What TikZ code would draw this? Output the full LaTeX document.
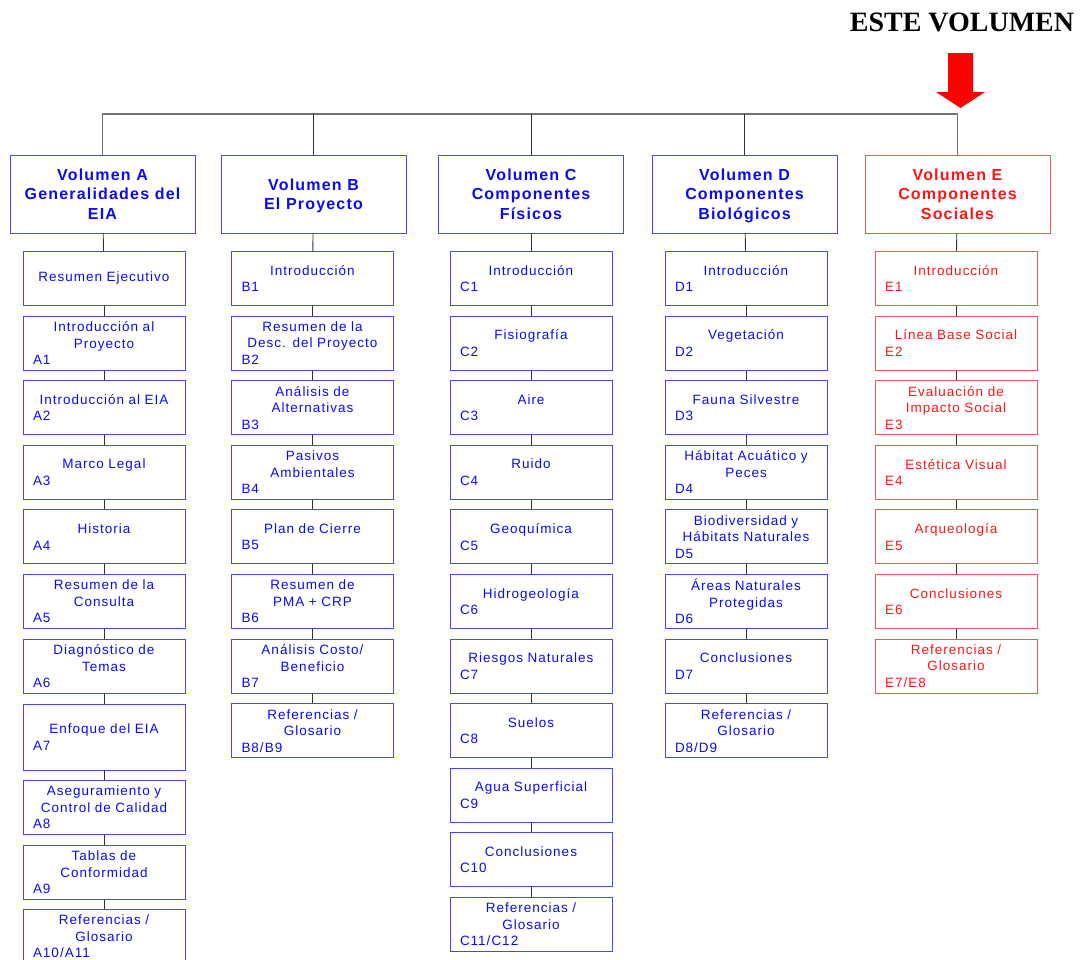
\documentclass[tikz,border=0pt]{standalone}
\usepackage{fontspec}
\setmainfont{Liberation Sans}[LetterSpace=7.4]
\newfontfamily\bannerfont{Liberation Serif}
\usepackage{tikz}
\usetikzlibrary{positioning,calc}
\definecolor{volblue}{RGB}{10,10,245}
\definecolor{edgeblue}{RGB}{70,70,250}
\definecolor{socred}{RGB}{255,20,20}
\definecolor{edgered}{RGB}{250,80,80}
\definecolor{linkgray}{RGB}{50,50,50}

% title lines centred, code flush left
\newcommand{\itemtxt}[2]{#1\\\makebox[142pt][l]{#2}}

\begin{document}
\begin{tikzpicture}[
    x=1pt, y=-1pt,
    volbox/.style={rectangle, draw=edgeblue, text=volblue, line width=1pt,
                minimum width=185, minimum height=78, align=center, inner sep=1pt,
                text depth=0pt, font=\fontsize{16}{19.5}\selectfont\bfseries},
    secbox/.style={rectangle, draw=edgeblue, text=volblue, line width=0.9pt,
                text width=142pt, inner xsep=10pt, inner ysep=1pt, minimum height=54,
                align=center, font=\fontsize{13.5}{16.5}\selectfont},
    socvol/.style={volbox, draw=edgered, text=socred},
    socsec/.style={secbox, draw=edgered, text=socred},
    link/.style={draw=linkgray, line width=0.9pt}
]
\useasboundingbox (0,0) rectangle (1084,959);

\node[font=\bannerfont\fontsize{28}{30}\selectfont\bfseries] (banner) at (962,22) {ESTE VOLUMEN};
\fill[red] (948,53) -- (973,53) -- (973,92) -- (985,92) -- (960.5,108) -- (936,92) -- (948,92) -- cycle;

% volumes
\node[volbox] (va) at (102.5,194) {Volumen A\\Generalidades del\\EIA};
\node[volbox] (vb) at (313.5,194) {Volumen B\\El Proyecto};
\node[volbox] (vc) at (531,194) {Volumen C\\Componentes\\Físicos};
\node[volbox] (vd) at (744.5,194) {Volumen D\\Componentes\\Biológicos};
\node[socvol] (ve) at (957.5,194) {Volumen E\\Componentes\\Sociales};

% volumen A
\node[secbox] (a0) at (104,278.5) {Resumen Ejecutivo};
\node[secbox] (a1) at (104,343.1) {\itemtxt{Introducción al\\Proyecto}{A1}};
\node[secbox] (a2) at (104,407.7) {\itemtxt{Introducción al EIA}{A2}};
\node[secbox] (a3) at (104,472.3) {\itemtxt{Marco Legal}{A3}};
\node[secbox] (a4) at (104,536.9) {\itemtxt{Historia}{A4}};
\node[secbox] (a5) at (104,601.5) {\itemtxt{Resumen de la\\Consulta}{A5}};
\node[secbox] (a6) at (104,666.1) {\itemtxt{Diagnóstico de\\Temas}{A6}};
\node[secbox, minimum height=66] (a7) at (104,737) {\itemtxt{Enfoque del EIA}{A7}};
\node[secbox] (a8) at (104,807.5) {\itemtxt{Aseguramiento y\\Control de Calidad}{A8}};
\node[secbox] (a9) at (104,872.5) {\itemtxt{Tablas de\\Conformidad}{A9}};
\node[secbox] (a10) at (104,936.5) {\itemtxt{Referencias /\\Glosario}{A10/A11}};

% volumen B
\node[secbox] (b1) at (312.5,278.5) {\itemtxt{Introducción}{B1}};
\node[secbox] (b2) at (312.5,343.1) {\itemtxt{Resumen de la\\Desc. del Proyecto}{B2}};
\node[secbox] (b3) at (312.5,407.7) {\itemtxt{Análisis de\\Alternativas}{B3}};
\node[secbox] (b4) at (312.5,472.3) {\itemtxt{Pasivos\\Ambientales}{B4}};
\node[secbox] (b5) at (312.5,536.9) {\itemtxt{Plan de Cierre}{B5}};
\node[secbox] (b6) at (312.5,601.5) {\itemtxt{Resumen de\\PMA + CRP}{B6}};
\node[secbox] (b7) at (312.5,666.1) {\itemtxt{Análisis Costo/\\Beneficio}{B7}};
\node[secbox] (b8) at (312.5,730.7) {\itemtxt{Referencias /\\Glosario}{B8/B9}};

% volumen C
\node[secbox] (c1) at (531,278.5) {\itemtxt{Introducción}{C1}};
\node[secbox] (c2) at (531,343.1) {\itemtxt{Fisiografía}{C2}};
\node[secbox] (c3) at (531,407.7) {\itemtxt{Aire}{C3}};
\node[secbox] (c4) at (531,472.3) {\itemtxt{Ruido}{C4}};
\node[secbox] (c5) at (531,536.9) {\itemtxt{Geoquímica}{C5}};
\node[secbox] (c6) at (531,601.5) {\itemtxt{Hidrogeología}{C6}};
\node[secbox] (c7) at (531,666.1) {\itemtxt{Riesgos Naturales}{C7}};
\node[secbox] (c8) at (531,730.7) {\itemtxt{Suelos}{C8}};
\node[secbox] (c9) at (531,795.3) {\itemtxt{Agua Superficial}{C9}};
\node[secbox] (c10) at (531,859.9) {\itemtxt{Conclusiones}{C10}};
\node[secbox] (c11) at (531,924.5) {\itemtxt{Referencias /\\Glosario}{C11/C12}};

% volumen D
\node[secbox] (d1) at (746,278.5) {\itemtxt{Introducción}{D1}};
\node[secbox] (d2) at (746,343.1) {\itemtxt{Vegetación}{D2}};
\node[secbox] (d3) at (746,407.7) {\itemtxt{Fauna Silvestre}{D3}};
\node[secbox] (d4) at (746,472.3) {\itemtxt{Hábitat Acuático y\\Peces}{D4}};
\node[secbox] (d5) at (746,536.9) {\itemtxt{Biodiversidad y\\Hábitats Naturales}{D5}};
\node[secbox] (d6) at (746,601.5) {\itemtxt{Áreas Naturales\\Protegidas}{D6}};
\node[secbox] (d7) at (746,666.1) {\itemtxt{Conclusiones}{D7}};
\node[secbox] (d8) at (746,730.7) {\itemtxt{Referencias /\\Glosario}{D8/D9}};

% volumen E
\node[socsec] (e1) at (956,278.5) {\itemtxt{Introducción}{E1}};
\node[socsec] (e2) at (956,343.1) {\itemtxt{Línea Base Social}{E2}};
\node[socsec] (e3) at (956,407.7) {\itemtxt{Evaluación de\\Impacto Social}{E3}};
\node[socsec] (e4) at (956,472.3) {\itemtxt{Estética Visual}{E4}};
\node[socsec] (e5) at (956,536.9) {\itemtxt{Arqueología}{E5}};
\node[socsec] (e6) at (956,601.5) {\itemtxt{Conclusiones}{E6}};
\node[socsec] (e7) at (956,666.1) {\itemtxt{Referencias /\\Glosario}{E7/E8}};

% tree lines
\coordinate (bar) at (0,114);
\draw[link, draw=gray!90!black, line width=1.4pt] (va.north) |- (bar -| ve.north) -- (ve.north);
\foreach \v in {vb,vc,vd}
    \draw[link] (\v.north) -- (\v.north |- bar);

\draw[link] (va) -- (a0);
\draw[link] (a0) -- (a1);
\draw[link] (vb) -- (b1);
\draw[link] (vc) -- (c1);
\draw[link] (vd) -- (d1);
\draw[link] (ve) -- (e1);
\foreach \col/\n in {a/10,b/8,c/11,d/8,e/7}
    \foreach \i in {2,...,\n} {
        \pgfmathtruncatemacro{\p}{\i-1}
        \draw[link] (\col\p) -- (\col\i);
    }

\end{tikzpicture}
\end{document}
